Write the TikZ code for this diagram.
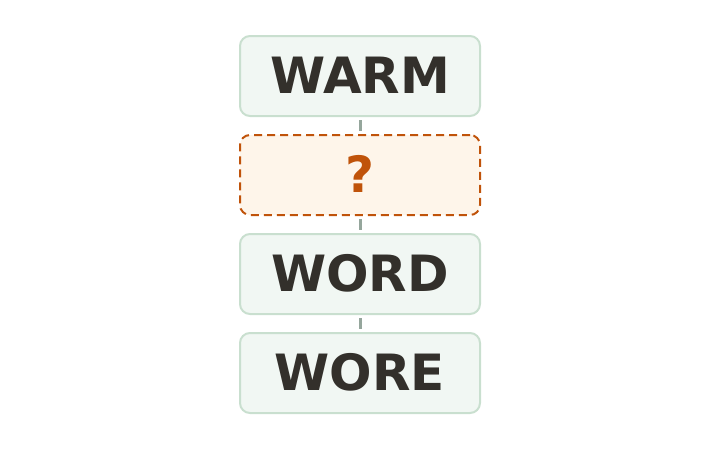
\documentclass[tikz,border=0pt]{standalone}
\usepackage{fontspec}
\setmainfont{DejaVu Sans}
\definecolor{gfill}{HTML}{F1F7F3}
\definecolor{gline}{HTML}{C9DFCF}
\definecolor{ofill}{HTML}{FEF5EA}
\definecolor{oline}{HTML}{C0530A}
\definecolor{txt}{HTML}{33302B}
\definecolor{conn}{HTML}{95A69C}
\newcommand{\lift}[1]{\raisebox{2pt}{#1}}
\begin{document}
\begin{tikzpicture}[x=1pt,y=-1pt,
  wordbox/.style={draw=gline,fill=gfill,line width=2pt,rounded corners=10pt,
    minimum width=240pt,minimum height=80pt,inner sep=0pt,text depth=0pt,
    font=\fontsize{50}{50}\selectfont\bfseries,text=txt},
  unknownbox/.style={draw=oline,fill=ofill,line width=2pt,rounded corners=10pt,
    dash pattern=on 8pt off 5pt,text depth=0pt,
    minimum width=240pt,minimum height=80pt,inner sep=0pt,
    font=\fontsize{50}{50}\selectfont\bfseries,text=oline},
  link/.style={draw=conn,line width=3pt,shorten <=3pt,shorten >=3pt}]
\useasboundingbox (0,0) rectangle (720,450);
\node[wordbox] (w1) at (360,76) {\lift{WARM}};
\node[unknownbox] (w2) at (360,175) {\lift{?}};
\node[wordbox] (w3) at (360,274) {\lift{WORD}};
\node[wordbox] (w4) at (360,373) {\lift{WORE}};
\draw[link] (w1.south) -- (w2.north);
\draw[link] (w2.south) -- (w3.north);
\draw[link] (w3.south) -- (w4.north);
\end{tikzpicture}
\end{document}
